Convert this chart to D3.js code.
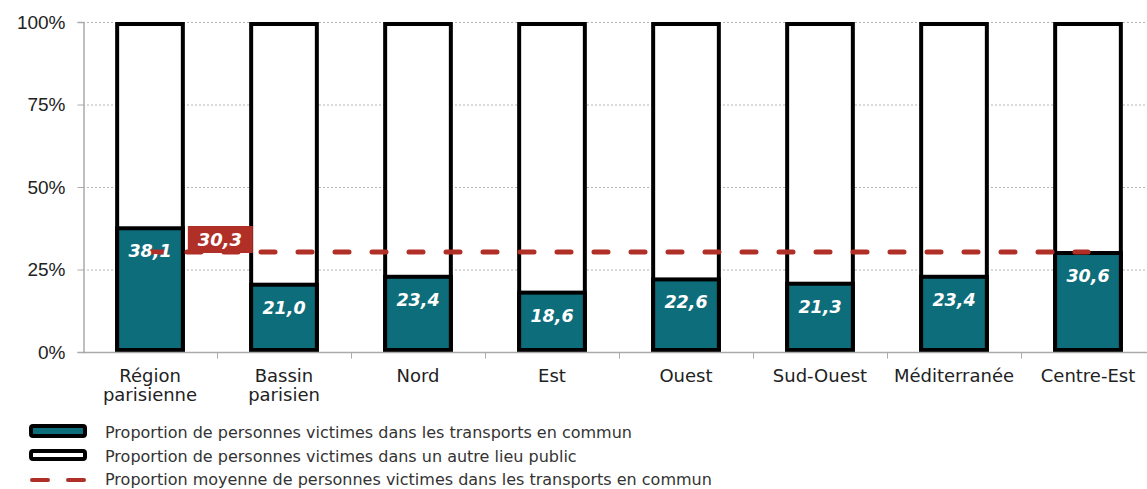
<!DOCTYPE html>
<html>
<head>
<meta charset="utf-8">
<script src="https://cdn.jsdelivr.net/npm/d3@7"></script>
<style>
  body { margin: 0; background: #fff; }
  svg { font-family: "DejaVu Sans", Verdana, sans-serif; }
</style>
</head>
<body>
<div id="chart"></div>
<script>
// data
var regions = ["Région parisienne", "Bassin parisien", "Nord", "Est", "Ouest", "Sud-Ouest", "Méditerranée", "Centre-Est"];
var transports = [38.1, 21.0, 23.4, 18.6, 22.6, 21.3, 23.4, 30.6];
var moyenne = 30.3;
var yTicks = [0, 25, 50, 75, 100];
var legendLabels = [
    "Proportion de personnes victimes dans les transports en commun",
    "Proportion de personnes victimes dans un autre lieu public",
    "Proportion moyenne de personnes victimes dans les transports en commun"
];

var teal = "#0e6d7b", red = "#b02f26";
var fmt = function (v) { return d3.format(".1f")(v).replace(".", ","); };

var width = 1147, height = 489;
var margin = { top: 22, left: 83 };
var plotH = 330;

var svg = d3.select("#chart").append("svg")
    .attr("width", width)
    .attr("height", height);

var x = d3.scaleBand().domain(regions).range([margin.left, margin.left + 8 * 134]).paddingInner(0.48).paddingOuter(0.24);
var y = d3.scaleLinear().domain([0, 100]).range([margin.top + plotH, margin.top]);

// gridlines
svg.append("g").selectAll("line")
    .data(yTicks.filter(function (d) { return d > 0; }))
    .enter().append("line")
    .attr("x1", margin.left).attr("x2", width)
    .attr("y1", function (d) { return y(d) + 0.5; })
    .attr("y2", function (d) { return y(d) + 0.5; })
    .attr("stroke", "#b5b5b5")
    .attr("stroke-dasharray", "2,2");

// y axis
var yAxis = svg.append("g")
    .attr("transform", "translate(" + (margin.left + 0.5) + ",0)")
    .call(d3.axisLeft(y).tickValues(yTicks).tickSize(6).tickPadding(12).tickFormat(function (d) { return d + "%"; }));
yAxis.select(".domain").attr("stroke", "#aaa").attr("stroke-width", 1.5);
yAxis.selectAll(".tick line").attr("stroke", "#aaa");
yAxis.selectAll("text").attr("font-size", 19).attr("fill", "#222");

// bars : outer box (other public place) then teal part
var bars = svg.append("g").selectAll("g")
    .data(regions)
    .enter().append("g");

bars.append("rect")
    .attr("x", function (d) { return x(d) + 2; })
    .attr("y", y(100) + 2)
    .attr("width", x.bandwidth() - 4)
    .attr("height", y(0) - y(100) - 4)
    .attr("fill", "#fff")
    .attr("stroke", "#000")
    .attr("stroke-width", 4);

bars.append("rect")
    .attr("x", function (d) { return x(d) + 2; })
    .attr("y", function (d, i) { return y(transports[i]) + 2; })
    .attr("width", x.bandwidth() - 4)
    .attr("height", function (d, i) { return y(0) - y(transports[i]) - 4; })
    .attr("fill", teal)
    .attr("stroke", "#000")
    .attr("stroke-width", 4);

// x axis
var xAxisG = svg.append("g").attr("transform", "translate(0," + (y(0) + 0.5) + ")");
xAxisG.append("line")
    .attr("x1", margin.left).attr("x2", width)
    .attr("stroke", "#aaa").attr("stroke-width", 1.5);
xAxisG.selectAll(".tk")
    .data(regions.slice(1))
    .enter().append("line")
    .attr("x1", function (d) { return x(d) - x.step() * 0.24 + 0.5; })
    .attr("x2", function (d) { return x(d) - x.step() * 0.24 + 0.5; })
    .attr("y1", 0).attr("y2", 6)
    .attr("stroke", "#aaa");

// category labels
svg.append("g").selectAll("text")
    .data(regions)
    .enter().append("text")
    .attr("x", function (d) { return x(d) + x.bandwidth() / 2; })
    .attr("y", y(0) + 30)
    .attr("text-anchor", "middle")
    .attr("font-size", 18)
    .attr("fill", "#222")
    .each(function (d) {
        var parts = (d === "Région parisienne" || d === "Bassin parisien") ? d.split(" ") : [d];
        var t = d3.select(this);
        parts.forEach(function (p, k) {
            t.append("tspan").attr("x", x(d) + x.bandwidth() / 2).attr("dy", k === 0 ? 0 : 19).text(p);
        });
    });

// average dashed line
var c0 = x(regions[0]) + x.bandwidth() / 2, c1 = x(regions[regions.length - 1]) + x.bandwidth() / 2;
svg.append("line")
    .attr("x1", c0).attr("x2", c1)
    .attr("y1", y(moyenne)).attr("y2", y(moyenne))
    .attr("stroke", red)
    .attr("stroke-width", 5)
    .attr("stroke-linecap", "round")
    .attr("stroke-dasharray", "14,23");

// value labels
svg.append("g").selectAll("text")
    .data(regions)
    .enter().append("text")
    .attr("x", function (d) { return x(d) + x.bandwidth() / 2; })
    .attr("y", function (d, i) { return y(transports[i]) + 31; })
    .attr("text-anchor", "middle")
    .attr("font-size", 17.5)
    .attr("font-weight", "bold")
    .attr("font-style", "italic")
    .attr("fill", "#fff")
    .text(function (d, i) { return fmt(transports[i]); });

// average label
var lx = x(regions[0]) + x.bandwidth() + 3;
svg.append("rect")
    .attr("x", lx).attr("y", y(moyenne) - 26)
    .attr("width", 65).attr("height", 27)
    .attr("fill", red);
svg.append("text")
    .attr("x", lx + 32).attr("y", y(moyenne) - 6)
    .attr("text-anchor", "middle")
    .attr("font-size", 18)
    .attr("font-weight", "bold")
    .attr("font-style", "italic")
    .attr("fill", "#fff")
    .text(fmt(moyenne));

// legend
var leg = svg.append("g");
var ly = [431, 455, 478];
leg.append("rect").attr("x", 31).attr("y", ly[0] - 5).attr("width", 54).attr("height", 10).attr("rx", 2)
    .attr("fill", teal).attr("stroke", "#000").attr("stroke-width", 4);
leg.append("rect").attr("x", 31).attr("y", ly[1] - 4).attr("width", 54).attr("height", 8).attr("rx", 2)
    .attr("fill", "#fff").attr("stroke", "#000").attr("stroke-width", 4);
leg.append("line").attr("x1", 32).attr("x2", 86).attr("y1", ly[2] + 2).attr("y2", ly[2] + 2)
    .attr("stroke", red).attr("stroke-width", 4).attr("stroke-linecap", "round")
    .attr("stroke-dasharray", "16,20");
leg.selectAll("text")
    .data(legendLabels)
    .enter().append("text")
    .attr("x", 105)
    .attr("y", function (d, i) { return ly[i] + 7; })
    .attr("font-size", 16)
    .attr("fill", "#333")
    .text(function (d) { return d; });
</script>
</body>
</html>
